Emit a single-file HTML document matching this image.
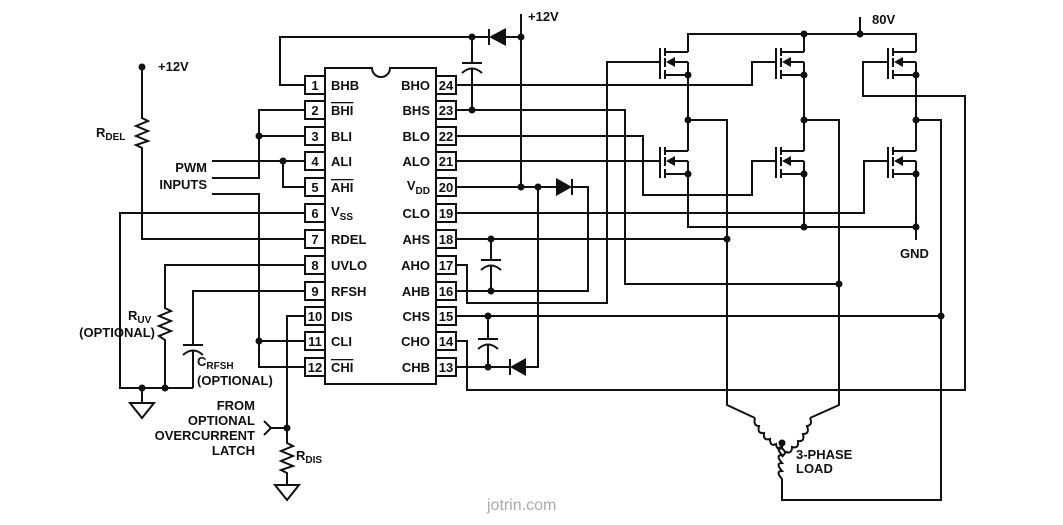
<!DOCTYPE html>
<html><head><meta charset="utf-8"><style>
html,body{margin:0;padding:0;background:#fff;}
svg{display:block;}
text{font-family:"Liberation Sans",sans-serif;font-weight:bold;font-size:13px;fill:#111;}
.n{text-anchor:middle;font-size:13px;}
.r{text-anchor:end;}
</style></head><body>
<svg width="1063" height="525" viewBox="0 0 1063 525" xmlns="http://www.w3.org/2000/svg">
<defs>
<g id="mos" stroke="#111" stroke-width="2" fill="none">
<line x1="-28" y1="-4" x2="-28" y2="27"/>
<line x1="-23" y1="-4" x2="-23" y2="4"/>
<line x1="-23" y1="6" x2="-23" y2="15"/>
<line x1="-23" y1="18" x2="-23" y2="27"/>
<line x1="-23" y1="0" x2="0" y2="0"/>
<line x1="-23" y1="23" x2="0" y2="23"/>
<line x1="-16" y1="10" x2="0" y2="10"/>
<line x1="0" y1="10" x2="0" y2="23"/>
<polygon points="-22,10 -13,5 -13,15" fill="#111" stroke="none"/>
</g>
</defs>
<g stroke="#111" stroke-width="2" fill="none">
<!-- IC -->
<path d="M325,68 H372 A9,9 0 0 0 390,68 H436 V384 H325 Z"/>
<g id="lb">
<rect x="305" y="76" width="20" height="18"/><rect x="305" y="101" width="20" height="18"/>
<rect x="305" y="127" width="20" height="18"/><rect x="305" y="152" width="20" height="18"/>
<rect x="305" y="178" width="20" height="18"/><rect x="305" y="204" width="20" height="18"/>
<rect x="305" y="230" width="20" height="18"/><rect x="305" y="256" width="20" height="18"/>
<rect x="305" y="282" width="20" height="18"/><rect x="305" y="307" width="20" height="18"/>
<rect x="305" y="332" width="20" height="18"/><rect x="305" y="358" width="20" height="18"/>
</g>
<use href="#lb" x="131"/>
<!-- left wiring -->
<polyline points="305,85 280,85 280,37 489,37"/>
<line x1="506" y1="37" x2="521" y2="37"/>
<line x1="489" y1="29" x2="489" y2="45"/>
<line x1="521" y1="14" x2="521" y2="187"/>
<line x1="472" y1="37" x2="472" y2="63"/>
<line x1="462" y1="63" x2="482" y2="63"/>
<path d="M462,73 Q472,64 482,73"/>
<line x1="472" y1="68" x2="472" y2="110"/>
<polyline points="456,85 752,85 752,62 776,62"/>
<polyline points="456,110 625,110 625,284 839,284"/>
<polyline points="456,136 643,136 643,195 752,195 752,161 776,161"/>
<line x1="456" y1="161" x2="660" y2="161"/>
<line x1="456" y1="187" x2="556" y2="187"/>
<polyline points="572,187 588,187 588,291 456,291"/>
<line x1="572" y1="179" x2="572" y2="195"/>
<polyline points="538,187 538,367 526,367"/>
<line x1="510" y1="367" x2="456" y2="367"/>
<line x1="510" y1="359" x2="510" y2="375"/>
<polyline points="456,213 864,213 864,161 888,161"/>
<line x1="456" y1="239" x2="727" y2="239"/>
<line x1="491" y1="239" x2="491" y2="260"/>
<line x1="481" y1="260" x2="501" y2="260"/>
<path d="M481,270 Q491,261 501,270"/>
<line x1="491" y1="265" x2="491" y2="291"/>
<polyline points="456,265 467,265 467,303 607,303 607,62 660,62"/>
<line x1="456" y1="316" x2="941" y2="316"/>
<line x1="488" y1="316" x2="488" y2="339"/>
<line x1="478" y1="339" x2="498" y2="339"/>
<path d="M478,349 Q488,340 498,349"/>
<line x1="488" y1="344" x2="488" y2="367"/>
<polyline points="456,341 467,341 467,390 965,390 965,96 863,96 863,62 888,62"/>
<!-- bridge -->
<polyline points="688,52 688,34 916,34 916,52"/>
<line x1="804" y1="34" x2="804" y2="52"/>
<line x1="860" y1="17" x2="860" y2="34"/>
<line x1="688" y1="75" x2="688" y2="151"/>
<line x1="804" y1="75" x2="804" y2="151"/>
<line x1="916" y1="75" x2="916" y2="151"/>
<polyline points="688,120 727,120 727,405 755,418"/>
<polyline points="804,120 839,120 839,405 810,418"/>
<polyline points="916,120 941,120 941,500 782,500 782,482"/>
<polyline points="688,174 688,227 916,227"/>
<line x1="804" y1="174" x2="804" y2="227"/>
<line x1="916" y1="174" x2="916" y2="240"/>
<!-- coils -->
<path d="M755,418 q-2,8 4,8 q-2,8 5,7 q-1,8 6,6 q0,8 6,5 q1,7 6,4 l4,5"/>
<path d="M810,418 q3,7 -3,8 q3,8 -4,8 q2,8 -5,7 q1,8 -6,6 q0,7 -6,5 l-4,5"/>
<path d="M782,443 v4 q-7,0 0,8 q-7,0 0,8 q-7,0 0,8 q-7,0 0,8 v3"/>
<!-- left side -->
<polyline points="142,67 142,118 148,121 136,126 148,131 136,136 148,141 136,145 142,148 142,239 305,239"/>
<polyline points="305,110 259,110 259,178 212,178"/>
<line x1="305" y1="136" x2="259" y2="136"/>
<line x1="212" y1="161" x2="305" y2="161"/>
<polyline points="283,161 283,187 305,187"/>
<polyline points="212,194 259,194 259,367 305,367"/>
<line x1="259" y1="341" x2="305" y2="341"/>
<polyline points="305,213 120,213 120,388 193,388"/>
<polyline points="142,388 142,403"/>
<polygon points="130,403 154,403 142,418"/>
<polyline points="305,265 165,265 165,308 171,311 159,316 171,321 159,326 171,331 159,336 165,340 165,388"/>
<polyline points="305,291 193,291 193,345"/>
<line x1="183" y1="345" x2="203" y2="345"/>
<path d="M183,355 Q193,346 203,355"/>
<line x1="193" y1="350" x2="193" y2="388"/>
<polyline points="305,316 287,316 287,443 293,446 281,451 293,456 281,461 293,466 281,470 287,473 287,485"/>
<polygon points="275,485 299,485 287,500"/>
<line x1="271" y1="428" x2="287" y2="428"/>
<polyline points="264,421 271,428 264,435"/>
</g>
<!-- diodes -->
<g fill="#111">
<polygon points="489,37 506,28 506,46"/>
<polygon points="572,187 556,178 556,196"/>
<polygon points="510,367 526,358 526,376"/>
</g>
<use href="#mos" x="688" y="52"/><use href="#mos" x="804" y="52"/><use href="#mos" x="916" y="52"/>
<use href="#mos" x="688" y="151"/><use href="#mos" x="804" y="151"/><use href="#mos" x="916" y="151"/>
<!-- nodes -->
<g fill="#111">
<circle cx="472" cy="37" r="3.5"/><circle cx="521" cy="37" r="3.5"/><circle cx="472" cy="110" r="3.5"/>
<circle cx="521" cy="187" r="3.5"/><circle cx="538" cy="187" r="3.5"/><circle cx="488" cy="367" r="3.5"/>
<circle cx="491" cy="239" r="3.5"/><circle cx="491" cy="291" r="3.5"/><circle cx="488" cy="316" r="3.5"/>
<circle cx="727" cy="239" r="3.5"/><circle cx="839" cy="284" r="3.5"/><circle cx="941" cy="316" r="3.5"/>
<circle cx="804" cy="34" r="3.5"/><circle cx="860" cy="34" r="3.5"/>
<circle cx="688" cy="75" r="3.5"/><circle cx="804" cy="75" r="3.5"/><circle cx="916" cy="75" r="3.5"/>
<circle cx="688" cy="120" r="3.5"/><circle cx="804" cy="120" r="3.5"/><circle cx="916" cy="120" r="3.5"/>
<circle cx="688" cy="174" r="3.5"/><circle cx="804" cy="174" r="3.5"/><circle cx="916" cy="174" r="3.5"/>
<circle cx="804" cy="227" r="3.5"/><circle cx="916" cy="227" r="3.5"/>
<circle cx="782" cy="443" r="3.5"/>
<circle cx="142" cy="67" r="3.5"/><circle cx="259" cy="136" r="3.5"/><circle cx="283" cy="161" r="3.5"/>
<circle cx="259" cy="341" r="3.5"/><circle cx="142" cy="388" r="3.5"/><circle cx="165" cy="388" r="3.5"/>
<circle cx="287" cy="428" r="3.5"/>
</g>
<!-- pin numbers -->
<g class="n">
<text x="315" y="90" class="n">1</text><text x="315" y="115" class="n">2</text><text x="315" y="141" class="n">3</text>
<text x="315" y="166" class="n">4</text><text x="315" y="192" class="n">5</text><text x="315" y="218" class="n">6</text>
<text x="315" y="244" class="n">7</text><text x="315" y="270" class="n">8</text><text x="315" y="296" class="n">9</text>
<text x="315" y="321" class="n" font-size="12">10</text><text x="315" y="346" class="n" font-size="12">11</text><text x="315" y="372" class="n" font-size="12">12</text>
<text x="446" y="90" class="n" font-size="12">24</text><text x="446" y="115" class="n" font-size="12">23</text><text x="446" y="141" class="n" font-size="12">22</text>
<text x="446" y="166" class="n" font-size="12">21</text><text x="446" y="192" class="n" font-size="12">20</text><text x="446" y="218" class="n" font-size="12">19</text>
<text x="446" y="244" class="n" font-size="12">18</text><text x="446" y="270" class="n" font-size="12">17</text><text x="446" y="296" class="n" font-size="12">16</text>
<text x="446" y="321" class="n" font-size="12">15</text><text x="446" y="346" class="n" font-size="12">14</text><text x="446" y="372" class="n" font-size="12">13</text>
</g>
<!-- pin names -->
<text x="331" y="90">BHB</text>
<text x="331" y="115" text-decoration="overline">BHI</text>
<text x="331" y="141">BLI</text>
<text x="331" y="166">ALI</text>
<text x="331" y="192" text-decoration="overline">AHI</text>
<text x="331" y="216">V<tspan font-size="10" dy="4">SS</tspan></text>
<text x="331" y="244">RDEL</text>
<text x="331" y="270">UVLO</text>
<text x="331" y="296">RFSH</text>
<text x="331" y="321">DIS</text>
<text x="331" y="346">CLI</text>
<text x="331" y="372" text-decoration="overline">CHI</text>
<g class="r">
<text x="430" y="90" class="r">BHO</text><text x="430" y="115" class="r">BHS</text><text x="430" y="141" class="r">BLO</text>
<text x="430" y="166" class="r">ALO</text><text x="430" y="190" class="r">V<tspan font-size="10" dy="4">DD</tspan></text>
<text x="430" y="218" class="r">CLO</text><text x="430" y="244" class="r">AHS</text><text x="430" y="270" class="r">AHO</text>
<text x="430" y="296" class="r">AHB</text><text x="430" y="321" class="r">CHS</text><text x="430" y="346" class="r">CHO</text>
<text x="430" y="372" class="r">CHB</text>
</g>
<!-- labels -->
<text x="528" y="21">+12V</text>
<text x="158" y="71">+12V</text>
<text x="872" y="24">80V</text>
<text x="900" y="258">GND</text>
<text x="96" y="137">R<tspan font-size="10" dy="3">DEL</tspan></text>
<text x="207" y="172" class="r">PWM</text>
<text x="207" y="189" class="r">INPUTS</text>
<text x="128" y="320">R<tspan font-size="10" dy="3">UV</tspan></text>
<text x="155" y="337" class="r">(OPTIONAL)</text>
<text x="197" y="366">C<tspan font-size="10" dy="3">RFSH</tspan></text>
<text x="197" y="385">(OPTIONAL)</text>
<text x="255" y="410" class="r">FROM</text>
<text x="255" y="425" class="r">OPTIONAL</text>
<text x="255" y="440" class="r">OVERCURRENT</text>
<text x="255" y="455" class="r">LATCH</text>
<text x="296" y="460">R<tspan font-size="10" dy="3">DIS</tspan></text>
<text x="796" y="459">3-PHASE</text>
<text x="796" y="473">LOAD</text>
<text x="487" y="510" style="font-weight:normal;font-size:16px;fill:#aaa">jotrin.com</text>
</svg>
</body></html>
